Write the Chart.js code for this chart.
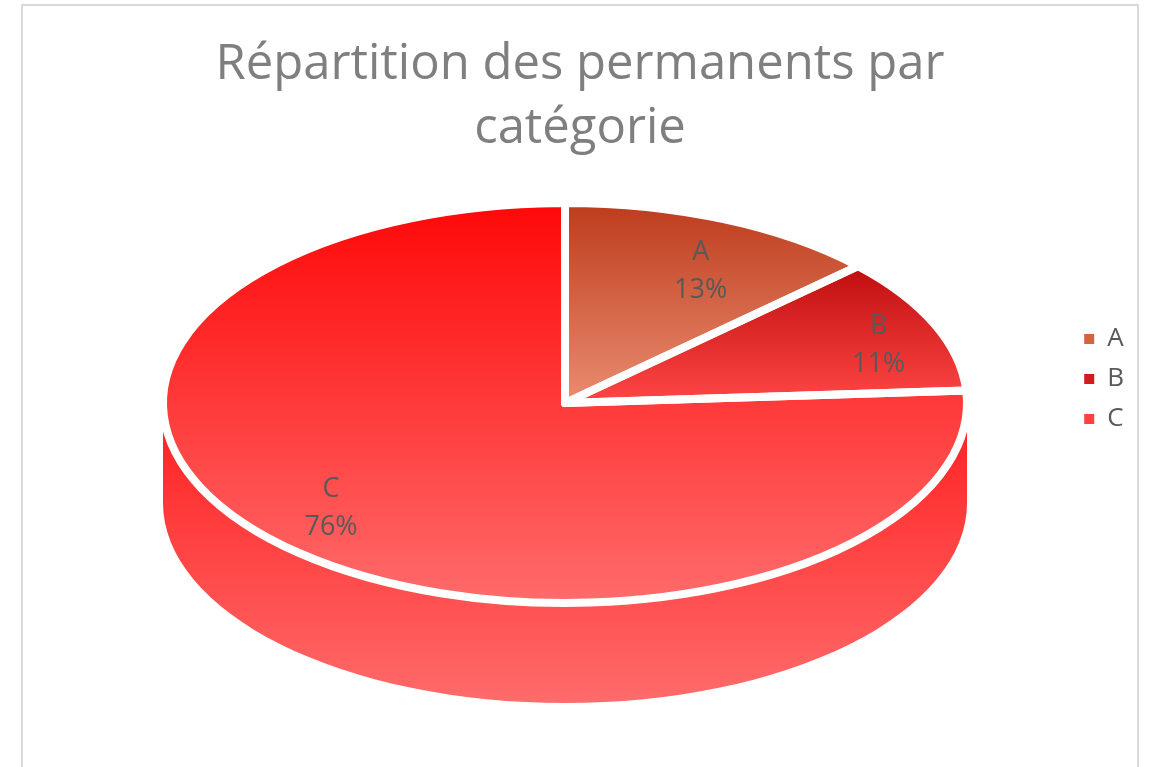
<!DOCTYPE html>
<html>
<head>
<meta charset="utf-8">
<script src="https://cdn.jsdelivr.net/npm/chart.js@4.4.0/dist/chart.umd.min.js"></script>
<style>
    html, body { margin: 0; padding: 0; background: #fff; }
    #frame { position: absolute; left: 21px; top: 4px; width: 1114px; height: 800px; border: 2px solid #d9d9d9; }
    #wrap { position: absolute; left: 0; top: 0; width: 1150px; height: 767px; }
</style>
</head>
<body>
<div id="frame"></div>
<div id="wrap"><canvas id="pieChart"></canvas></div>
<script>
const categories = ['A', 'B', 'C'];
const parts = [13, 11, 76];
const titleLines = ['Répartition des permanents par', 'catégorie'];

// slice colours: gradient top / bottom for the top face, the side wall, and the legend swatch
const topColors = ['#bd3c1c', '#bf0e0e', '#ff0808'];
const bottomColors = ['#ea8c71', '#ff4646', '#ff6b6b'];
const sideTopColors = ['#c8502e', '#e01a1a', '#ff1e1e'];
const sideBottomColors = ['#ea8c71', '#ff5858', '#ff6b6b'];
const legendColors = ['#d4643f', '#d41a1a', '#ff4040'];

const TEXT = '#595959';
// placement of the tilted pie on the page
const PIE = { cx: 565, top: 203, rx: 402, ry: 200, depth: 100, labelX: 0.85, labelY: 0.72 };

const total = parts.reduce((s, v) => s + v, 0);

function sliceAngles(i) {
    let start = -Math.PI / 2;
    for (let k = 0; k < i; k++) start += parts[k] / total * 2 * Math.PI;
    return [start, start + parts[i] / total * 2 * Math.PI];
}

// vertical gradient over the bounding box of the slice (in the untilted space)
function sliceFill(context) {
    const chart = context.chart;
    const area = chart.chartArea;
    const i = context.dataIndex;
    if (!area || i === undefined) return legendColors[i] || legendColors[0];
    const r = Math.min(area.right - area.left, area.bottom - area.top) / 2;
    const cy = (area.top + area.bottom) / 2;
    const [a0, a1] = sliceAngles(i);
    let minY = cy, maxY = cy;
    for (let t = a0; t <= a1; t += 0.005) {
        const y = cy + Math.sin(t) * r;
        minY = Math.min(minY, y);
        maxY = Math.max(maxY, y);
    }
    const grad = chart.ctx.createLinearGradient(0, minY, 0, maxY);
    grad.addColorStop(0, topColors[i]);
    grad.addColorStop(1, bottomColors[i]);
    return grad;
}

function geometry(chart) {
    const first = chart.getDatasetMeta(0).data[0];
    return { x: first.x, y: first.y, r: first.outerRadius, cx: PIE.cx, cy: PIE.top + PIE.ry };
}

const pie3d = {
    id: 'pie3d',
    beforeDatasetsDraw(chart) {
        const ctx = chart.ctx;
        const g = geometry(chart);
        // side wall, only where the slice faces the viewer
        chart.getDatasetMeta(0).data.forEach((arc, i) => {
            const a0 = Math.max(arc.startAngle, 0);
            const a1 = Math.min(arc.endAngle, Math.PI);
            if (a1 <= a0) return;
            const grad = ctx.createLinearGradient(0, g.cy, 0, g.cy + PIE.ry + PIE.depth);
            grad.addColorStop(0, sideTopColors[i]);
            grad.addColorStop(1, sideBottomColors[i]);
            ctx.beginPath();
            ctx.ellipse(g.cx, g.cy, PIE.rx, PIE.ry, 0, a0, a1);
            ctx.ellipse(g.cx, g.cy + PIE.depth, PIE.rx, PIE.ry, 0, a1, a0, true);
            ctx.closePath();
            ctx.fillStyle = grad;
            ctx.fill();
        });
        // tilt the pie drawn by Chart.js
        ctx.save();
        ctx.translate(g.cx, g.cy);
        ctx.scale(PIE.rx / g.r, PIE.ry / g.r);
        ctx.translate(-g.x, -g.y);
    },
    afterDatasetsDraw(chart) {
        const ctx = chart.ctx;
        ctx.restore();
        const g = geometry(chart);
        const arcs = chart.getDatasetMeta(0).data;

        ctx.save();
        ctx.strokeStyle = '#ffffff';
        ctx.lineWidth = 8;
        ctx.lineJoin = 'round';
        arcs.forEach(arc => {
            ctx.beginPath();
            ctx.moveTo(g.cx, g.cy);
            ctx.ellipse(g.cx, g.cy, PIE.rx, PIE.ry, 0, arc.startAngle, arc.endAngle);
            ctx.closePath();
            ctx.stroke();
        });

        ctx.font = '27px "Open Sans"';
        ctx.fillStyle = TEXT;
        ctx.textAlign = 'center';
        ctx.textBaseline = 'middle';
        arcs.forEach((arc, i) => {
            const mid = (arc.startAngle + arc.endAngle) / 2;
            const x = g.cx + Math.cos(mid) * PIE.rx * PIE.labelX;
            const y = g.cy + Math.sin(mid) * PIE.ry * PIE.labelY;
            ctx.fillText(categories[i], x, y - 19);
            ctx.fillText(Math.round(parts[i] / total * 100) + '%', x, y + 19);
        });
        ctx.restore();
    }
};

new Chart(document.getElementById('pieChart'), {
    type: 'pie',
    data: {
        labels: categories,
        datasets: [{
            data: parts,
            backgroundColor: sliceFill,
            borderWidth: 0,
            hoverOffset: 0,
            clip: false
        }]
    },
    options: {
        responsive: true,
        maintainAspectRatio: false,
        animation: false,
        events: [],
        layout: {
            padding: { left: 26, right: 16, top: 0, bottom: 9 }
        },
        plugins: {
            title: {
                display: true,
                text: titleLines,
                color: '#7f7f7f',
                font: { family: 'Open Sans', size: 49, weight: 'normal', lineHeight: 64 / 49 },
                padding: { top: 33, bottom: 35 }
            },
            legend: {
                position: 'right',
                labels: {
                    boxWidth: 10,
                    boxHeight: 10,
                    padding: 14,
                    color: TEXT,
                    font: { family: 'Open Sans', size: 26 },
                    generateLabels(chart) {
                        return categories.map((c, i) => ({
                            text: c,
                            fillStyle: legendColors[i],
                            strokeStyle: legendColors[i],
                            lineWidth: 0,
                            fontColor: TEXT,
                            hidden: false,
                            index: i
                        }));
                    }
                }
            },
            tooltip: { enabled: false }
        }
    },
    plugins: [pie3d]
});
</script>
</body>
</html>
